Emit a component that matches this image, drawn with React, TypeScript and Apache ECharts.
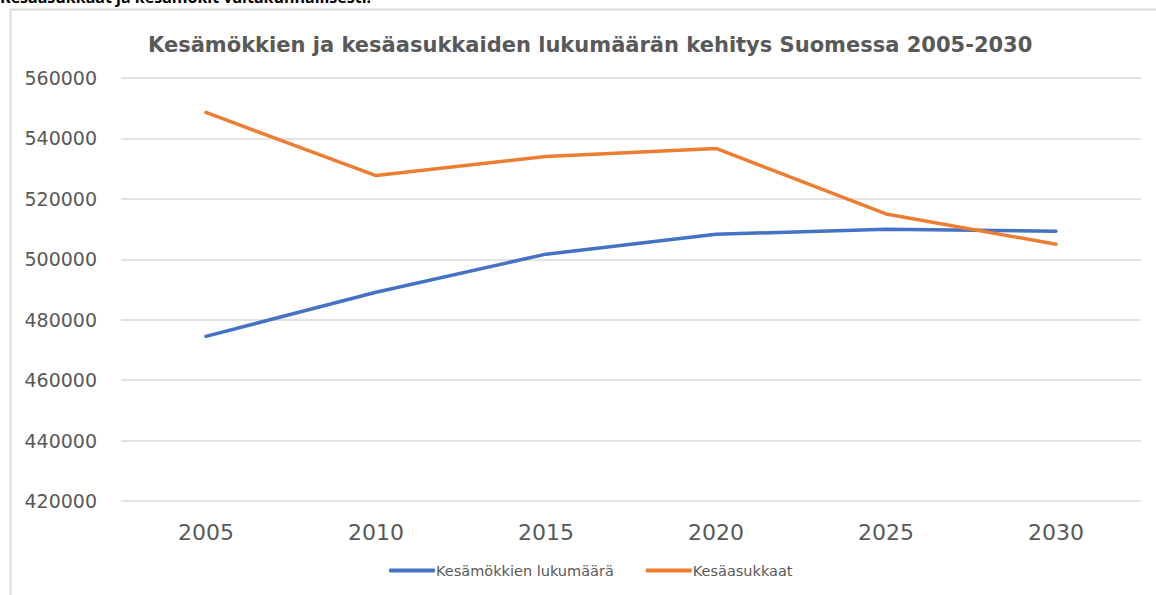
import React, { useEffect, useRef } from "react";
import * as echarts from "echarts";

const years = ["2005", "2010", "2015", "2020", "2025", "2030"];
const mokit = [474500, 489100, 501700, 508300, 509900, 509300];
const asukkaat = [548600, 527700, 534000, 536700, 515000, 505000];

const seriesNames = ["Kesämökkien lukumäärä", "Kesäasukkaat"];
const titleText = "Kesämökkien ja kesäasukkaiden lukumäärän kehitys Suomessa 2005-2030";
const headerText = "Kesäasukkaat ja kesämökit valtakunnallisesti.";

export default function App() {
  const ref = useRef<HTMLDivElement>(null);
  useEffect(() => {
    if (!ref.current) return;
    const chart = echarts.init(ref.current, undefined, { renderer: "svg" });
    const font = "'DejaVu Sans', 'Noto Sans', sans-serif";
    chart.setOption({
      animation: false,
      backgroundColor: "#ffffff",
      title: {
        text: titleText,
        left: 143,
        top: 29,
        textStyle: { fontFamily: font, fontSize: 21, fontWeight: "bold", color: "#595959" },
      },
      graphic: [
        { type: "line", shape: { x1: 10.5, y1: 9.5, x2: 1156, y2: 9.5 }, style: { stroke: "#d9d9d9", lineWidth: 2 } },
        { type: "line", shape: { x1: 10.5, y1: 9.5, x2: 10.5, y2: 595 }, style: { stroke: "#d9d9d9", lineWidth: 2 } },
        {
          type: "text",
          left: 0,
          top: -11,
          style: { text: headerText, fontFamily: "'Open Sans', sans-serif", fontSize: 16, fontWeight: "bold", fill: "#000000" },
        },
      ],
      legend: {
        bottom: 12,
        left: 384,
        itemWidth: 46,
        itemHeight: 4,
        itemGap: 32,
        icon: "roundRect",
        textStyle: { fontFamily: font, fontSize: 14.5, color: "#595959", padding: [0, 0, 0, -4] },
        data: seriesNames,
      },
      grid: { left: 121, right: 15, top: 78, bottom: 94, containLabel: false },
      xAxis: {
        type: "category",
        data: years,
        boundaryGap: true,
        axisLine: { show: false },
        axisTick: { show: false },
        axisLabel: { fontFamily: font, fontSize: 22, color: "#595959", margin: 20 },
      },
      yAxis: {
        type: "value",
        min: 420000,
        max: 560000,
        interval: 20000,
        axisLine: { show: false },
        axisTick: { show: false },
        splitLine: { lineStyle: { color: "#d9d9d9", width: 1.5 } },
        axisLabel: {
          fontFamily: font,
          fontSize: 19,
          color: "#595959",
          margin: 24,
          formatter: (v: number) => String(v),
        },
      },
      series: [
        {
          name: seriesNames[0],
          type: "line",
          data: mokit,
          symbol: "none",
          lineStyle: { color: "#4472C4", width: 3.5, cap: "round" },
          itemStyle: { color: "#4472C4" },
        },
        {
          name: seriesNames[1],
          type: "line",
          data: asukkaat,
          symbol: "none",
          lineStyle: { color: "#ED7D31", width: 3.5, cap: "round" },
          itemStyle: { color: "#ED7D31" },
        },
      ],
    });
    return () => chart.dispose();
  }, []);
  return (
    <div
      ref={ref}
      style={{ position: "fixed", left: 0, top: 0, width: 1156, height: 595 }}
    />
  );
}
